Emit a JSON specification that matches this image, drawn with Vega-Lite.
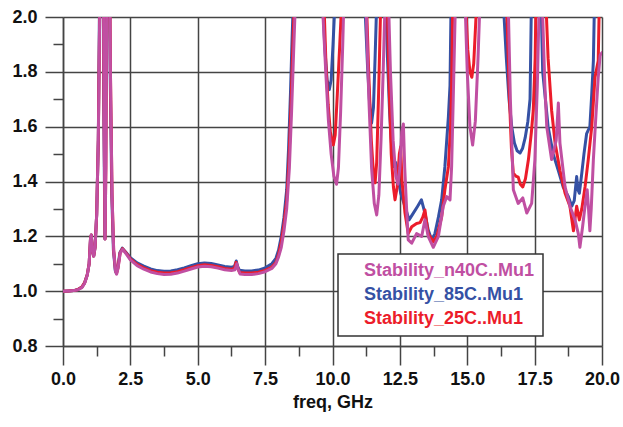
{
  "$schema": "https://vega.github.io/schema/vega-lite/v6.json",
  "width": 539,
  "height": 329,
  "autosize": {"type": "none"},
  "padding": {"left": 63, "top": 17, "right": 21, "bottom": 81},
  "background": "white",
  "data": {"values": [
    {"s":"Stability_85C..Mu1","f":0.0,"v":1.0},{"s":"Stability_85C..Mu1","f":0.2,"v":1.001},{"s":"Stability_85C..Mu1","f":0.4,"v":1.002},{"s":"Stability_85C..Mu1","f":0.55,"v":1.006},{"s":"Stability_85C..Mu1","f":0.7,"v":1.015},{"s":"Stability_85C..Mu1","f":0.8,"v":1.03},{"s":"Stability_85C..Mu1","f":0.9,"v":1.06},{"s":"Stability_85C..Mu1","f":0.97,"v":1.1},{"s":"Stability_85C..Mu1","f":1.02,"v":1.19},{"s":"Stability_85C..Mu1","f":1.05,"v":1.205},{"s":"Stability_85C..Mu1","f":1.09,"v":1.15},{"s":"Stability_85C..Mu1","f":1.14,"v":1.128},{"s":"Stability_85C..Mu1","f":1.19,"v":1.16},{"s":"Stability_85C..Mu1","f":1.25,"v":1.28},{"s":"Stability_85C..Mu1","f":1.31,"v":1.55},{"s":"Stability_85C..Mu1","f":1.35,"v":2.0},{"s":"Stability_85C..Mu1","f":1.41,"v":2.6},{"s":"Stability_85C..Mu1","f":1.47,"v":2.5},{"s":"Stability_85C..Mu1","f":1.51,"v":1.7},{"s":"Stability_85C..Mu1","f":1.555,"v":1.19},{"s":"Stability_85C..Mu1","f":1.58,"v":1.45},{"s":"Stability_85C..Mu1","f":1.62,"v":2.2},{"s":"Stability_85C..Mu1","f":1.69,"v":2.6},{"s":"Stability_85C..Mu1","f":1.75,"v":1.8},{"s":"Stability_85C..Mu1","f":1.81,"v":1.35},{"s":"Stability_85C..Mu1","f":1.87,"v":1.15},{"s":"Stability_85C..Mu1","f":1.94,"v":1.075},{"s":"Stability_85C..Mu1","f":1.98,"v":1.066},{"s":"Stability_85C..Mu1","f":2.03,"v":1.085},{"s":"Stability_85C..Mu1","f":2.11,"v":1.14},{"s":"Stability_85C..Mu1","f":2.2,"v":1.157},{"s":"Stability_85C..Mu1","f":2.35,"v":1.14},{"s":"Stability_85C..Mu1","f":2.5,"v":1.122},{"s":"Stability_85C..Mu1","f":2.75,"v":1.103},{"s":"Stability_85C..Mu1","f":3.0,"v":1.091},{"s":"Stability_85C..Mu1","f":3.25,"v":1.081},{"s":"Stability_85C..Mu1","f":3.5,"v":1.075},{"s":"Stability_85C..Mu1","f":3.75,"v":1.073},{"s":"Stability_85C..Mu1","f":4.0,"v":1.074},{"s":"Stability_85C..Mu1","f":4.25,"v":1.078},{"s":"Stability_85C..Mu1","f":4.5,"v":1.085},{"s":"Stability_85C..Mu1","f":4.75,"v":1.093},{"s":"Stability_85C..Mu1","f":5.0,"v":1.1},{"s":"Stability_85C..Mu1","f":5.25,"v":1.103},{"s":"Stability_85C..Mu1","f":5.5,"v":1.101},{"s":"Stability_85C..Mu1","f":5.75,"v":1.096},{"s":"Stability_85C..Mu1","f":6.0,"v":1.09},{"s":"Stability_85C..Mu1","f":6.25,"v":1.087},{"s":"Stability_85C..Mu1","f":6.36,"v":1.09},{"s":"Stability_85C..Mu1","f":6.43,"v":1.11},{"s":"Stability_85C..Mu1","f":6.48,"v":1.09},{"s":"Stability_85C..Mu1","f":6.55,"v":1.076},{"s":"Stability_85C..Mu1","f":6.75,"v":1.074},{"s":"Stability_85C..Mu1","f":7.0,"v":1.074},{"s":"Stability_85C..Mu1","f":7.25,"v":1.077},{"s":"Stability_85C..Mu1","f":7.5,"v":1.085},{"s":"Stability_85C..Mu1","f":7.75,"v":1.1},{"s":"Stability_85C..Mu1","f":7.9,"v":1.12},{"s":"Stability_85C..Mu1","f":8.0,"v":1.15},{"s":"Stability_85C..Mu1","f":8.1,"v":1.2},{"s":"Stability_85C..Mu1","f":8.2,"v":1.27},{"s":"Stability_85C..Mu1","f":8.3,"v":1.37},{"s":"Stability_85C..Mu1","f":8.37,"v":1.52},{"s":"Stability_85C..Mu1","f":8.44,"v":1.72},{"s":"Stability_85C..Mu1","f":8.5,"v":1.92},{"s":"Stability_85C..Mu1","f":8.56,"v":2.1},{"s":"Stability_85C..Mu1","f":8.7,"v":2.6},{"s":"Stability_85C..Mu1","f":9.3,"v":3.0},{"s":"Stability_85C..Mu1","f":9.6,"v":2.2},{"s":"Stability_85C..Mu1","f":9.66,"v":2.0},{"s":"Stability_85C..Mu1","f":9.72,"v":1.88},{"s":"Stability_85C..Mu1","f":9.8,"v":1.77},{"s":"Stability_85C..Mu1","f":9.88,"v":1.735},{"s":"Stability_85C..Mu1","f":9.95,"v":1.77},{"s":"Stability_85C..Mu1","f":10.02,"v":1.9},{"s":"Stability_85C..Mu1","f":10.09,"v":2.05},{"s":"Stability_85C..Mu1","f":10.3,"v":2.8},{"s":"Stability_85C..Mu1","f":11.0,"v":2.8},{"s":"Stability_85C..Mu1","f":11.2,"v":2.05},{"s":"Stability_85C..Mu1","f":11.3,"v":1.82},{"s":"Stability_85C..Mu1","f":11.38,"v":1.68},{"s":"Stability_85C..Mu1","f":11.45,"v":1.613},{"s":"Stability_85C..Mu1","f":11.52,"v":1.67},{"s":"Stability_85C..Mu1","f":11.58,"v":1.85},{"s":"Stability_85C..Mu1","f":11.64,"v":2.05},{"s":"Stability_85C..Mu1","f":11.8,"v":2.5},{"s":"Stability_85C..Mu1","f":11.98,"v":2.05},{"s":"Stability_85C..Mu1","f":12.04,"v":1.85},{"s":"Stability_85C..Mu1","f":12.12,"v":1.65},{"s":"Stability_85C..Mu1","f":12.2,"v":1.52},{"s":"Stability_85C..Mu1","f":12.28,"v":1.454},{"s":"Stability_85C..Mu1","f":12.34,"v":1.47},{"s":"Stability_85C..Mu1","f":12.39,"v":1.44},{"s":"Stability_85C..Mu1","f":12.53,"v":1.357},{"s":"Stability_85C..Mu1","f":12.72,"v":1.3},{"s":"Stability_85C..Mu1","f":12.84,"v":1.26},{"s":"Stability_85C..Mu1","f":12.97,"v":1.28},{"s":"Stability_85C..Mu1","f":13.16,"v":1.31},{"s":"Stability_85C..Mu1","f":13.3,"v":1.333},{"s":"Stability_85C..Mu1","f":13.43,"v":1.285},{"s":"Stability_85C..Mu1","f":13.55,"v":1.224},{"s":"Stability_85C..Mu1","f":13.68,"v":1.187},{"s":"Stability_85C..Mu1","f":13.8,"v":1.21},{"s":"Stability_85C..Mu1","f":13.93,"v":1.27},{"s":"Stability_85C..Mu1","f":14.05,"v":1.333},{"s":"Stability_85C..Mu1","f":14.17,"v":1.454},{"s":"Stability_85C..Mu1","f":14.3,"v":1.636},{"s":"Stability_85C..Mu1","f":14.36,"v":1.75},{"s":"Stability_85C..Mu1","f":14.4,"v":2.05},{"s":"Stability_85C..Mu1","f":14.6,"v":2.8},{"s":"Stability_85C..Mu1","f":16.0,"v":2.8},{"s":"Stability_85C..Mu1","f":16.34,"v":2.05},{"s":"Stability_85C..Mu1","f":16.45,"v":1.85},{"s":"Stability_85C..Mu1","f":16.55,"v":1.7},{"s":"Stability_85C..Mu1","f":16.65,"v":1.6},{"s":"Stability_85C..Mu1","f":16.75,"v":1.54},{"s":"Stability_85C..Mu1","f":16.85,"v":1.512},{"s":"Stability_85C..Mu1","f":16.96,"v":1.504},{"s":"Stability_85C..Mu1","f":17.05,"v":1.52},{"s":"Stability_85C..Mu1","f":17.15,"v":1.56},{"s":"Stability_85C..Mu1","f":17.25,"v":1.62},{"s":"Stability_85C..Mu1","f":17.33,"v":1.7},{"s":"Stability_85C..Mu1","f":17.38,"v":2.05},{"s":"Stability_85C..Mu1","f":17.5,"v":2.6},{"s":"Stability_85C..Mu1","f":17.68,"v":2.6},{"s":"Stability_85C..Mu1","f":17.74,"v":2.05},{"s":"Stability_85C..Mu1","f":17.8,"v":1.8},{"s":"Stability_85C..Mu1","f":17.9,"v":1.7},{"s":"Stability_85C..Mu1","f":18.0,"v":1.6},{"s":"Stability_85C..Mu1","f":18.19,"v":1.5},{"s":"Stability_85C..Mu1","f":18.38,"v":1.44},{"s":"Stability_85C..Mu1","f":18.56,"v":1.38},{"s":"Stability_85C..Mu1","f":18.75,"v":1.345},{"s":"Stability_85C..Mu1","f":18.88,"v":1.31},{"s":"Stability_85C..Mu1","f":18.97,"v":1.33},{"s":"Stability_85C..Mu1","f":19.06,"v":1.418},{"s":"Stability_85C..Mu1","f":19.11,"v":1.37},{"s":"Stability_85C..Mu1","f":19.16,"v":1.357},{"s":"Stability_85C..Mu1","f":19.25,"v":1.43},{"s":"Stability_85C..Mu1","f":19.33,"v":1.5},{"s":"Stability_85C..Mu1","f":19.43,"v":1.575},{"s":"Stability_85C..Mu1","f":19.55,"v":1.6},{"s":"Stability_85C..Mu1","f":19.62,"v":1.72},{"s":"Stability_85C..Mu1","f":19.68,"v":1.84},{"s":"Stability_85C..Mu1","f":19.72,"v":2.05},{"s":"Stability_85C..Mu1","f":20.0,"v":2.8},

    {"s":"Stability_25C..Mu1","f":0.0,"v":1.0},{"s":"Stability_25C..Mu1","f":0.2,"v":1.001},{"s":"Stability_25C..Mu1","f":0.4,"v":1.002},{"s":"Stability_25C..Mu1","f":0.55,"v":1.006},{"s":"Stability_25C..Mu1","f":0.7,"v":1.015},{"s":"Stability_25C..Mu1","f":0.8,"v":1.03},{"s":"Stability_25C..Mu1","f":0.9,"v":1.06},{"s":"Stability_25C..Mu1","f":0.97,"v":1.1},{"s":"Stability_25C..Mu1","f":1.02,"v":1.19},{"s":"Stability_25C..Mu1","f":1.05,"v":1.205},{"s":"Stability_25C..Mu1","f":1.09,"v":1.15},{"s":"Stability_25C..Mu1","f":1.14,"v":1.128},{"s":"Stability_25C..Mu1","f":1.19,"v":1.16},{"s":"Stability_25C..Mu1","f":1.25,"v":1.28},{"s":"Stability_25C..Mu1","f":1.31,"v":1.55},{"s":"Stability_25C..Mu1","f":1.36,"v":2.0},{"s":"Stability_25C..Mu1","f":1.42,"v":2.6},{"s":"Stability_25C..Mu1","f":1.48,"v":2.5},{"s":"Stability_25C..Mu1","f":1.52,"v":1.7},{"s":"Stability_25C..Mu1","f":1.56,"v":1.19},{"s":"Stability_25C..Mu1","f":1.59,"v":1.45},{"s":"Stability_25C..Mu1","f":1.63,"v":2.2},{"s":"Stability_25C..Mu1","f":1.7,"v":2.6},{"s":"Stability_25C..Mu1","f":1.76,"v":1.8},{"s":"Stability_25C..Mu1","f":1.82,"v":1.35},{"s":"Stability_25C..Mu1","f":1.88,"v":1.15},{"s":"Stability_25C..Mu1","f":1.95,"v":1.075},{"s":"Stability_25C..Mu1","f":1.99,"v":1.066},{"s":"Stability_25C..Mu1","f":2.04,"v":1.085},{"s":"Stability_25C..Mu1","f":2.12,"v":1.14},{"s":"Stability_25C..Mu1","f":2.21,"v":1.155},{"s":"Stability_25C..Mu1","f":2.35,"v":1.138},{"s":"Stability_25C..Mu1","f":2.5,"v":1.118},{"s":"Stability_25C..Mu1","f":2.75,"v":1.098},{"s":"Stability_25C..Mu1","f":3.0,"v":1.085},{"s":"Stability_25C..Mu1","f":3.25,"v":1.075},{"s":"Stability_25C..Mu1","f":3.5,"v":1.069},{"s":"Stability_25C..Mu1","f":3.75,"v":1.066},{"s":"Stability_25C..Mu1","f":4.0,"v":1.067},{"s":"Stability_25C..Mu1","f":4.25,"v":1.071},{"s":"Stability_25C..Mu1","f":4.5,"v":1.078},{"s":"Stability_25C..Mu1","f":4.75,"v":1.086},{"s":"Stability_25C..Mu1","f":5.0,"v":1.093},{"s":"Stability_25C..Mu1","f":5.25,"v":1.096},{"s":"Stability_25C..Mu1","f":5.5,"v":1.094},{"s":"Stability_25C..Mu1","f":5.75,"v":1.089},{"s":"Stability_25C..Mu1","f":6.0,"v":1.083},{"s":"Stability_25C..Mu1","f":6.25,"v":1.08},{"s":"Stability_25C..Mu1","f":6.36,"v":1.083},{"s":"Stability_25C..Mu1","f":6.42,"v":1.105},{"s":"Stability_25C..Mu1","f":6.48,"v":1.085},{"s":"Stability_25C..Mu1","f":6.55,"v":1.068},{"s":"Stability_25C..Mu1","f":6.75,"v":1.066},{"s":"Stability_25C..Mu1","f":7.0,"v":1.066},{"s":"Stability_25C..Mu1","f":7.25,"v":1.069},{"s":"Stability_25C..Mu1","f":7.5,"v":1.076},{"s":"Stability_25C..Mu1","f":7.75,"v":1.088},{"s":"Stability_25C..Mu1","f":7.9,"v":1.105},{"s":"Stability_25C..Mu1","f":8.0,"v":1.135},{"s":"Stability_25C..Mu1","f":8.1,"v":1.18},{"s":"Stability_25C..Mu1","f":8.2,"v":1.245},{"s":"Stability_25C..Mu1","f":8.3,"v":1.33},{"s":"Stability_25C..Mu1","f":8.38,"v":1.47},{"s":"Stability_25C..Mu1","f":8.46,"v":1.68},{"s":"Stability_25C..Mu1","f":8.53,"v":1.9},{"s":"Stability_25C..Mu1","f":8.6,"v":2.1},{"s":"Stability_25C..Mu1","f":8.72,"v":2.6},{"s":"Stability_25C..Mu1","f":9.3,"v":3.0},{"s":"Stability_25C..Mu1","f":9.66,"v":2.2},{"s":"Stability_25C..Mu1","f":9.7,"v":2.0},{"s":"Stability_25C..Mu1","f":9.76,"v":1.82},{"s":"Stability_25C..Mu1","f":9.84,"v":1.68},{"s":"Stability_25C..Mu1","f":9.92,"v":1.58},{"s":"Stability_25C..Mu1","f":10.03,"v":1.533},{"s":"Stability_25C..Mu1","f":10.1,"v":1.57},{"s":"Stability_25C..Mu1","f":10.18,"v":1.72},{"s":"Stability_25C..Mu1","f":10.27,"v":1.9},{"s":"Stability_25C..Mu1","f":10.34,"v":2.05},{"s":"Stability_25C..Mu1","f":10.5,"v":2.8},{"s":"Stability_25C..Mu1","f":11.1,"v":2.8},{"s":"Stability_25C..Mu1","f":11.26,"v":2.05},{"s":"Stability_25C..Mu1","f":11.35,"v":1.78},{"s":"Stability_25C..Mu1","f":11.44,"v":1.55},{"s":"Stability_25C..Mu1","f":11.52,"v":1.43},{"s":"Stability_25C..Mu1","f":11.58,"v":1.395},{"s":"Stability_25C..Mu1","f":11.64,"v":1.47},{"s":"Stability_25C..Mu1","f":11.71,"v":1.72},{"s":"Stability_25C..Mu1","f":11.79,"v":2.05},{"s":"Stability_25C..Mu1","f":11.92,"v":2.4},{"s":"Stability_25C..Mu1","f":12.03,"v":2.05},{"s":"Stability_25C..Mu1","f":12.1,"v":1.75},{"s":"Stability_25C..Mu1","f":12.18,"v":1.5},{"s":"Stability_25C..Mu1","f":12.26,"v":1.38},{"s":"Stability_25C..Mu1","f":12.32,"v":1.333},{"s":"Stability_25C..Mu1","f":12.4,"v":1.38},{"s":"Stability_25C..Mu1","f":12.48,"v":1.5},{"s":"Stability_25C..Mu1","f":12.53,"v":1.527},{"s":"Stability_25C..Mu1","f":12.58,"v":1.4},{"s":"Stability_25C..Mu1","f":12.69,"v":1.285},{"s":"Stability_25C..Mu1","f":12.81,"v":1.21},{"s":"Stability_25C..Mu1","f":12.94,"v":1.235},{"s":"Stability_25C..Mu1","f":13.12,"v":1.247},{"s":"Stability_25C..Mu1","f":13.25,"v":1.25},{"s":"Stability_25C..Mu1","f":13.35,"v":1.27},{"s":"Stability_25C..Mu1","f":13.43,"v":1.296},{"s":"Stability_25C..Mu1","f":13.55,"v":1.21},{"s":"Stability_25C..Mu1","f":13.74,"v":1.18},{"s":"Stability_25C..Mu1","f":13.87,"v":1.2},{"s":"Stability_25C..Mu1","f":14.05,"v":1.27},{"s":"Stability_25C..Mu1","f":14.17,"v":1.37},{"s":"Stability_25C..Mu1","f":14.3,"v":1.454},{"s":"Stability_25C..Mu1","f":14.38,"v":1.6},{"s":"Stability_25C..Mu1","f":14.42,"v":1.75},{"s":"Stability_25C..Mu1","f":14.46,"v":2.05},{"s":"Stability_25C..Mu1","f":14.6,"v":2.8},{"s":"Stability_25C..Mu1","f":14.85,"v":2.6},{"s":"Stability_25C..Mu1","f":14.94,"v":2.05},{"s":"Stability_25C..Mu1","f":15.02,"v":1.88},{"s":"Stability_25C..Mu1","f":15.1,"v":1.8},{"s":"Stability_25C..Mu1","f":15.17,"v":1.78},{"s":"Stability_25C..Mu1","f":15.24,"v":1.83},{"s":"Stability_25C..Mu1","f":15.3,"v":1.95},{"s":"Stability_25C..Mu1","f":15.35,"v":2.05},{"s":"Stability_25C..Mu1","f":15.45,"v":2.6},{"s":"Stability_25C..Mu1","f":16.2,"v":2.8},{"s":"Stability_25C..Mu1","f":16.46,"v":2.05},{"s":"Stability_25C..Mu1","f":16.56,"v":1.72},{"s":"Stability_25C..Mu1","f":16.64,"v":1.52},{"s":"Stability_25C..Mu1","f":16.71,"v":1.43},{"s":"Stability_25C..Mu1","f":16.8,"v":1.42},{"s":"Stability_25C..Mu1","f":16.89,"v":1.416},{"s":"Stability_25C..Mu1","f":16.97,"v":1.39},{"s":"Stability_25C..Mu1","f":17.06,"v":1.38},{"s":"Stability_25C..Mu1","f":17.16,"v":1.41},{"s":"Stability_25C..Mu1","f":17.27,"v":1.48},{"s":"Stability_25C..Mu1","f":17.38,"v":1.58},{"s":"Stability_25C..Mu1","f":17.45,"v":1.66},{"s":"Stability_25C..Mu1","f":17.52,"v":1.85},{"s":"Stability_25C..Mu1","f":17.55,"v":2.05},{"s":"Stability_25C..Mu1","f":17.7,"v":2.6},{"s":"Stability_25C..Mu1","f":17.85,"v":2.6},{"s":"Stability_25C..Mu1","f":17.92,"v":2.05},{"s":"Stability_25C..Mu1","f":18.0,"v":1.85},{"s":"Stability_25C..Mu1","f":18.13,"v":1.66},{"s":"Stability_25C..Mu1","f":18.26,"v":1.54},{"s":"Stability_25C..Mu1","f":18.44,"v":1.44},{"s":"Stability_25C..Mu1","f":18.63,"v":1.357},{"s":"Stability_25C..Mu1","f":18.81,"v":1.31},{"s":"Stability_25C..Mu1","f":18.94,"v":1.22},{"s":"Stability_25C..Mu1","f":19.06,"v":1.31},{"s":"Stability_25C..Mu1","f":19.16,"v":1.26},{"s":"Stability_25C..Mu1","f":19.25,"v":1.3},{"s":"Stability_25C..Mu1","f":19.37,"v":1.38},{"s":"Stability_25C..Mu1","f":19.49,"v":1.48},{"s":"Stability_25C..Mu1","f":19.62,"v":1.6},{"s":"Stability_25C..Mu1","f":19.74,"v":1.78},{"s":"Stability_25C..Mu1","f":19.8,"v":1.81},{"s":"Stability_25C..Mu1","f":19.86,"v":1.84},{"s":"Stability_25C..Mu1","f":19.9,"v":2.05},{"s":"Stability_25C..Mu1","f":20.0,"v":2.5},

    {"s":"Stability_n40C..Mu1","f":0.0,"v":1.0},{"s":"Stability_n40C..Mu1","f":0.2,"v":1.001},{"s":"Stability_n40C..Mu1","f":0.4,"v":1.002},{"s":"Stability_n40C..Mu1","f":0.55,"v":1.005},{"s":"Stability_n40C..Mu1","f":0.7,"v":1.013},{"s":"Stability_n40C..Mu1","f":0.8,"v":1.028},{"s":"Stability_n40C..Mu1","f":0.9,"v":1.058},{"s":"Stability_n40C..Mu1","f":0.97,"v":1.1},{"s":"Stability_n40C..Mu1","f":1.02,"v":1.19},{"s":"Stability_n40C..Mu1","f":1.05,"v":1.205},{"s":"Stability_n40C..Mu1","f":1.09,"v":1.15},{"s":"Stability_n40C..Mu1","f":1.14,"v":1.128},{"s":"Stability_n40C..Mu1","f":1.19,"v":1.16},{"s":"Stability_n40C..Mu1","f":1.25,"v":1.28},{"s":"Stability_n40C..Mu1","f":1.31,"v":1.55},{"s":"Stability_n40C..Mu1","f":1.36,"v":2.0},{"s":"Stability_n40C..Mu1","f":1.42,"v":2.6},{"s":"Stability_n40C..Mu1","f":1.48,"v":2.5},{"s":"Stability_n40C..Mu1","f":1.52,"v":1.7},{"s":"Stability_n40C..Mu1","f":1.56,"v":1.19},{"s":"Stability_n40C..Mu1","f":1.59,"v":1.45},{"s":"Stability_n40C..Mu1","f":1.63,"v":2.2},{"s":"Stability_n40C..Mu1","f":1.7,"v":2.6},{"s":"Stability_n40C..Mu1","f":1.76,"v":1.8},{"s":"Stability_n40C..Mu1","f":1.82,"v":1.35},{"s":"Stability_n40C..Mu1","f":1.88,"v":1.15},{"s":"Stability_n40C..Mu1","f":1.95,"v":1.072},{"s":"Stability_n40C..Mu1","f":1.99,"v":1.062},{"s":"Stability_n40C..Mu1","f":2.04,"v":1.082},{"s":"Stability_n40C..Mu1","f":2.12,"v":1.138},{"s":"Stability_n40C..Mu1","f":2.21,"v":1.153},{"s":"Stability_n40C..Mu1","f":2.35,"v":1.135},{"s":"Stability_n40C..Mu1","f":2.5,"v":1.114},{"s":"Stability_n40C..Mu1","f":2.75,"v":1.093},{"s":"Stability_n40C..Mu1","f":3.0,"v":1.08},{"s":"Stability_n40C..Mu1","f":3.25,"v":1.07},{"s":"Stability_n40C..Mu1","f":3.5,"v":1.064},{"s":"Stability_n40C..Mu1","f":3.75,"v":1.061},{"s":"Stability_n40C..Mu1","f":4.0,"v":1.062},{"s":"Stability_n40C..Mu1","f":4.25,"v":1.066},{"s":"Stability_n40C..Mu1","f":4.5,"v":1.073},{"s":"Stability_n40C..Mu1","f":4.75,"v":1.081},{"s":"Stability_n40C..Mu1","f":5.0,"v":1.088},{"s":"Stability_n40C..Mu1","f":5.25,"v":1.091},{"s":"Stability_n40C..Mu1","f":5.5,"v":1.089},{"s":"Stability_n40C..Mu1","f":5.75,"v":1.084},{"s":"Stability_n40C..Mu1","f":6.0,"v":1.078},{"s":"Stability_n40C..Mu1","f":6.25,"v":1.075},{"s":"Stability_n40C..Mu1","f":6.38,"v":1.078},{"s":"Stability_n40C..Mu1","f":6.45,"v":1.1},{"s":"Stability_n40C..Mu1","f":6.5,"v":1.08},{"s":"Stability_n40C..Mu1","f":6.57,"v":1.063},{"s":"Stability_n40C..Mu1","f":6.75,"v":1.061},{"s":"Stability_n40C..Mu1","f":7.0,"v":1.061},{"s":"Stability_n40C..Mu1","f":7.25,"v":1.064},{"s":"Stability_n40C..Mu1","f":7.5,"v":1.071},{"s":"Stability_n40C..Mu1","f":7.75,"v":1.083},{"s":"Stability_n40C..Mu1","f":7.9,"v":1.1},{"s":"Stability_n40C..Mu1","f":8.0,"v":1.125},{"s":"Stability_n40C..Mu1","f":8.1,"v":1.16},{"s":"Stability_n40C..Mu1","f":8.2,"v":1.22},{"s":"Stability_n40C..Mu1","f":8.3,"v":1.3},{"s":"Stability_n40C..Mu1","f":8.4,"v":1.45},{"s":"Stability_n40C..Mu1","f":8.48,"v":1.65},{"s":"Stability_n40C..Mu1","f":8.56,"v":1.88},{"s":"Stability_n40C..Mu1","f":8.64,"v":2.1},{"s":"Stability_n40C..Mu1","f":8.8,"v":2.6},{"s":"Stability_n40C..Mu1","f":9.3,"v":3.0},{"s":"Stability_n40C..Mu1","f":9.6,"v":2.2},{"s":"Stability_n40C..Mu1","f":9.65,"v":2.0},{"s":"Stability_n40C..Mu1","f":9.75,"v":1.8},{"s":"Stability_n40C..Mu1","f":9.85,"v":1.62},{"s":"Stability_n40C..Mu1","f":9.95,"v":1.5},{"s":"Stability_n40C..Mu1","f":10.05,"v":1.42},{"s":"Stability_n40C..Mu1","f":10.15,"v":1.39},{"s":"Stability_n40C..Mu1","f":10.22,"v":1.45},{"s":"Stability_n40C..Mu1","f":10.3,"v":1.65},{"s":"Stability_n40C..Mu1","f":10.38,"v":1.9},{"s":"Stability_n40C..Mu1","f":10.42,"v":2.05},{"s":"Stability_n40C..Mu1","f":10.6,"v":2.8},{"s":"Stability_n40C..Mu1","f":11.1,"v":2.8},{"s":"Stability_n40C..Mu1","f":11.24,"v":2.05},{"s":"Stability_n40C..Mu1","f":11.35,"v":1.7},{"s":"Stability_n40C..Mu1","f":11.45,"v":1.45},{"s":"Stability_n40C..Mu1","f":11.55,"v":1.32},{"s":"Stability_n40C..Mu1","f":11.64,"v":1.278},{"s":"Stability_n40C..Mu1","f":11.72,"v":1.35},{"s":"Stability_n40C..Mu1","f":11.8,"v":1.55},{"s":"Stability_n40C..Mu1","f":11.88,"v":1.8},{"s":"Stability_n40C..Mu1","f":11.95,"v":2.05},{"s":"Stability_n40C..Mu1","f":12.02,"v":2.3},{"s":"Stability_n40C..Mu1","f":12.08,"v":2.05},{"s":"Stability_n40C..Mu1","f":12.15,"v":1.8},{"s":"Stability_n40C..Mu1","f":12.25,"v":1.55},{"s":"Stability_n40C..Mu1","f":12.35,"v":1.42},{"s":"Stability_n40C..Mu1","f":12.43,"v":1.39},{"s":"Stability_n40C..Mu1","f":12.5,"v":1.45},{"s":"Stability_n40C..Mu1","f":12.57,"v":1.58},{"s":"Stability_n40C..Mu1","f":12.63,"v":1.61},{"s":"Stability_n40C..Mu1","f":12.68,"v":1.45},{"s":"Stability_n40C..Mu1","f":12.75,"v":1.3},{"s":"Stability_n40C..Mu1","f":12.81,"v":1.187},{"s":"Stability_n40C..Mu1","f":12.94,"v":1.175},{"s":"Stability_n40C..Mu1","f":13.12,"v":1.21},{"s":"Stability_n40C..Mu1","f":13.31,"v":1.2},{"s":"Stability_n40C..Mu1","f":13.43,"v":1.26},{"s":"Stability_n40C..Mu1","f":13.55,"v":1.2},{"s":"Stability_n40C..Mu1","f":13.74,"v":1.16},{"s":"Stability_n40C..Mu1","f":13.93,"v":1.2},{"s":"Stability_n40C..Mu1","f":14.11,"v":1.31},{"s":"Stability_n40C..Mu1","f":14.24,"v":1.345},{"s":"Stability_n40C..Mu1","f":14.36,"v":1.333},{"s":"Stability_n40C..Mu1","f":14.42,"v":1.454},{"s":"Stability_n40C..Mu1","f":14.48,"v":1.7},{"s":"Stability_n40C..Mu1","f":14.56,"v":2.05},{"s":"Stability_n40C..Mu1","f":14.7,"v":2.8},{"s":"Stability_n40C..Mu1","f":14.85,"v":2.5},{"s":"Stability_n40C..Mu1","f":14.92,"v":2.05},{"s":"Stability_n40C..Mu1","f":15.0,"v":1.8},{"s":"Stability_n40C..Mu1","f":15.1,"v":1.6},{"s":"Stability_n40C..Mu1","f":15.2,"v":1.533},{"s":"Stability_n40C..Mu1","f":15.3,"v":1.62},{"s":"Stability_n40C..Mu1","f":15.4,"v":1.85},{"s":"Stability_n40C..Mu1","f":15.47,"v":2.05},{"s":"Stability_n40C..Mu1","f":15.6,"v":2.8},{"s":"Stability_n40C..Mu1","f":16.3,"v":2.8},{"s":"Stability_n40C..Mu1","f":16.52,"v":2.05},{"s":"Stability_n40C..Mu1","f":16.6,"v":1.7},{"s":"Stability_n40C..Mu1","f":16.71,"v":1.37},{"s":"Stability_n40C..Mu1","f":16.89,"v":1.32},{"s":"Stability_n40C..Mu1","f":17.06,"v":1.34},{"s":"Stability_n40C..Mu1","f":17.21,"v":1.285},{"s":"Stability_n40C..Mu1","f":17.39,"v":1.32},{"s":"Stability_n40C..Mu1","f":17.51,"v":1.48},{"s":"Stability_n40C..Mu1","f":17.6,"v":1.75},{"s":"Stability_n40C..Mu1","f":17.67,"v":2.05},{"s":"Stability_n40C..Mu1","f":17.72,"v":2.3},{"s":"Stability_n40C..Mu1","f":17.8,"v":2.0},{"s":"Stability_n40C..Mu1","f":17.88,"v":1.75},{"s":"Stability_n40C..Mu1","f":17.95,"v":1.6},{"s":"Stability_n40C..Mu1","f":18.13,"v":1.48},{"s":"Stability_n40C..Mu1","f":18.3,"v":1.55},{"s":"Stability_n40C..Mu1","f":18.38,"v":1.686},{"s":"Stability_n40C..Mu1","f":18.44,"v":1.54},{"s":"Stability_n40C..Mu1","f":18.63,"v":1.38},{"s":"Stability_n40C..Mu1","f":18.81,"v":1.31},{"s":"Stability_n40C..Mu1","f":19.0,"v":1.26},{"s":"Stability_n40C..Mu1","f":19.12,"v":1.21},{"s":"Stability_n40C..Mu1","f":19.18,"v":1.16},{"s":"Stability_n40C..Mu1","f":19.28,"v":1.235},{"s":"Stability_n40C..Mu1","f":19.37,"v":1.31},{"s":"Stability_n40C..Mu1","f":19.45,"v":1.37},{"s":"Stability_n40C..Mu1","f":19.5,"v":1.3},{"s":"Stability_n40C..Mu1","f":19.55,"v":1.22},{"s":"Stability_n40C..Mu1","f":19.6,"v":1.3},{"s":"Stability_n40C..Mu1","f":19.68,"v":1.48},{"s":"Stability_n40C..Mu1","f":19.78,"v":1.65},{"s":"Stability_n40C..Mu1","f":19.86,"v":1.78},{"s":"Stability_n40C..Mu1","f":19.93,"v":1.86},{"s":"Stability_n40C..Mu1","f":20.0,"v":1.87}
  ]},
  "mark": {"type": "line", "clip": true, "strokeWidth": 3, "strokeJoin": "round", "strokeCap": "round"},
  "encoding": {
    "x": {
      "field": "f", "type": "quantitative",
      "scale": {"domain": [0, 20], "nice": false, "zero": false},
      "axis": {
        "values": [0, 1.25, 2.5, 3.75, 5, 6.25, 7.5, 8.75, 10, 11.25, 12.5, 13.75, 15, 16.25, 17.5, 18.75, 20],
        "format": ".1f",
        "labelExpr": "round(datum.value/1.25) % 2 == 0 ? datum.label : ''",
        "tickSize": {"condition": {"test": "round(datum.value/1.25) % 2 == 0", "value": 19}, "value": 10},
        "gridOpacity": {"condition": {"test": "round(datum.value/1.25) % 2 == 0", "value": 1}, "value": 0},
        "labelFlush": false,
        "labelOverlap": false,
        "labelPadding": 5,
        "title": "freq, GHz",
        "titlePadding": 5
      }
    },
    "y": {
      "field": "v", "type": "quantitative",
      "scale": {"domain": [0.8, 2.0], "nice": false, "zero": false},
      "axis": {
        "values": [0.8, 0.9, 1.0, 1.1, 1.2, 1.3, 1.4, 1.5, 1.6, 1.7, 1.8, 1.9, 2.0],
        "format": ".1f",
        "labelExpr": "round(datum.value*10) % 2 == 0 ? datum.label : ''",
        "tickSize": {"condition": {"test": "round(datum.value*10) % 2 == 0", "value": 18}, "value": 10},
        "gridOpacity": {"condition": {"test": "round(datum.value*10) % 2 == 0", "value": 1}, "value": 0},
        "labelFlush": false,
        "labelOverlap": false,
        "labelPadding": 8,
        "title": null
      }
    },
    "color": {
      "field": "s", "type": "nominal",
      "scale": {
        "domain": ["Stability_n40C..Mu1", "Stability_85C..Mu1", "Stability_25C..Mu1"],
        "range": ["#C04FA2", "#3551A4", "#EC1C2A"]
      },
      "legend": {
        "orient": "none",
        "legendX": 275,
        "legendY": 237,
        "title": null,
        "symbolSize": 1,
        "symbolOpacity": 0,
        "symbolStrokeWidth": 0,
        "labelOffset": 0,
        "labelFont": "Liberation Sans",
        "labelFontSize": 18,
        "labelFontWeight": "bold",
        "labelColor": {"expr": "scale('color', datum.value)"},
        "padding": 8,
        "rowPadding": 6,
        "strokeColor": "#333",
        "fillColor": "white",
        "labelLimit": 400
      }
    }
  },
  "config": {
    "view": {"stroke": null},
    "axis": {
      "domainColor": "#444", "domainWidth": 1.5,
      "tickColor": "#444", "tickWidth": 1.5,
      "gridColor": "#444", "gridWidth": 1.5,
      "labelFont": "Liberation Sans", "labelFontSize": 18, "labelFontWeight": "bold", "labelColor": "#111",
      "titleFont": "Liberation Sans", "titleFontSize": 18, "titleFontWeight": "bold", "titleColor": "#111"
    },
    "legend": {"strokeWidth": 1.5}
  }
}
